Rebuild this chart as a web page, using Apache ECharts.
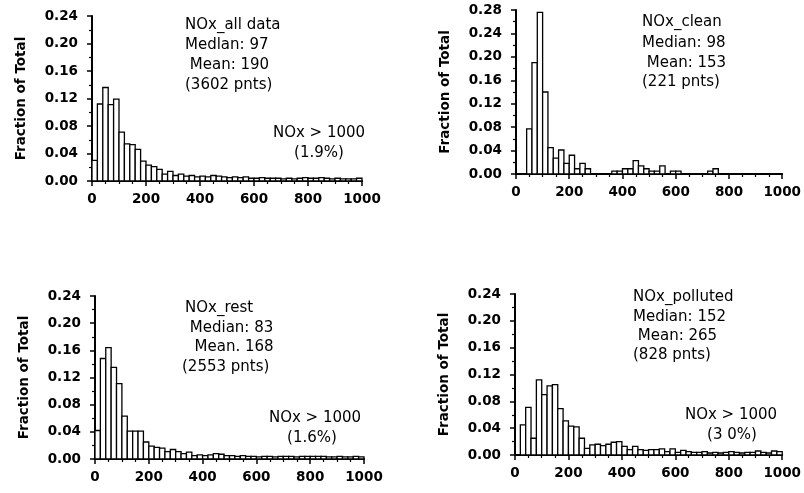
<!DOCTYPE html>
<html>
<head>
<meta charset="utf-8">
<script src="https://cdn.jsdelivr.net/npm/echarts@6/dist/echarts.min.js"></script>
<style>html,body{margin:0;padding:0;background:#fff}#c{width:804px;height:493px}</style>
</head>
<body>
<div id="c"></div>
<script>
// Histogram bins (lower edge, NOx), bin width 20
const binWidth = 20;
const binStarts = [0,20,40,60,80,100,120,140,160,180,200,220,240,260,280,300,320,340,360,380,
  400,420,440,460,480,500,520,540,560,580,600,620,640,660,680,700,720,740,760,780,
  800,820,840,860,880,900,920,940,960,980];
const xTicks = [0,200,400,600,800,1000];

// Fraction of total per bin
const allData = [0.030,0.112,0.136,0.111,0.119,0.071,0.054,0.053,0.046,0.029,
  0.023,0.021,0.017,0.010,0.014,0.008,0.010,0.007,0.008,0.006,
  0.007,0.006,0.008,0.007,0.006,0.005,0.006,0.005,0.006,0.004,
  0.004,0.005,0.004,0.004,0.004,0.003,0.004,0.003,0.004,0.005,
  0.004,0.004,0.005,0.004,0.003,0.004,0.003,0.003,0.003,0.004];
const clean = [0,0,0.077,0.190,0.276,0.140,0.045,0.027,0.041,0.018,
  0.032,0.009,0.018,0.009,0,0,0,0,0.005,0.005,
  0.009,0.009,0.023,0.014,0.009,0.005,0.005,0.014,0,0.005,
  0.005,0,0,0,0,0,0.005,0.009,0,0,
  0,0,0,0,0,0,0,0,0,0];
const rest = [0.042,0.148,0.164,0.135,0.111,0.063,0.041,0.041,0.041,0.025,
  0.019,0.017,0.016,0.011,0.014,0.011,0.008,0.010,0.005,0.006,
  0.005,0.006,0.008,0.007,0.005,0.005,0.004,0.005,0.004,0.004,
  0.003,0.004,0.004,0.003,0.004,0.004,0.004,0.003,0.004,0.004,
  0.004,0.004,0.004,0.003,0.003,0.004,0.003,0.003,0.004,0.003];
const polluted = [0,0.045,0.071,0.025,0.112,0.090,0.103,0.105,0.069,0.051,
  0.043,0.042,0.025,0.010,0.015,0.016,0.014,0.016,0.019,0.020,
  0.013,0.008,0.013,0.008,0.007,0.008,0.008,0.009,0.005,0.009,
  0.004,0.007,0.005,0.004,0.004,0.005,0.003,0.004,0.003,0.004,
  0.005,0.004,0.003,0.004,0.004,0.006,0.004,0.003,0.006,0.005];

const panels = [
  {vals: allData, ymax: 0.24, grid:{left:92, top:16, width:270, height:165},
   text:[['NOx_all data',185,25],['Medlan: 97',185,45],[' Mean: 190',185,65],['(3602 pnts)',185,85]],
   over:[['NOx > 1000',319,133],['(1.9%)',319,153]]},
  {vals: clean, ymax: 0.28, grid:{left:516, top:10, width:270, height:164},
   text:[['NOx_clean',642,22],['Median: 98',642,43],[' Mean: 153',642,63],['(221 pnts)',642,82]],
   over:[]},
  {vals: rest, ymax: 0.24, grid:{left:95, top:296, width:269, height:163},
   text:[['NOx_rest',185,308],[' Median: 83',185,328],['  Mean. 168',185,347],['(2553 pnts)',182,367]],
   over:[['NOx > 1000',315,418],['(1.6%)',312,438]]},
  {vals: polluted, ymax: 0.24, grid:{left:515, top:294, width:269, height:161},
   text:[['NOx_polluted',633,297],['Median: 152',633,317],[' Mean: 265',633,336],['(828 pnts)',633,355]],
   over:[['NOx > 1000',731,415],['(3 0%)',732,435]]}
];

const FONT = 'DejaVu Sans';
const grids=[], xAxes=[], yAxes=[], series=[], graphics=[];
panels.forEach((p,i)=>{
  grids.push(Object.assign({containLabel:false}, p.grid));
  xAxes.push({type:'value', gridIndex:i, min:0, max:1000, interval:200,
    axisLine:{show:true, onZero:false, lineStyle:{color:'#000', width:2}},
    axisTick:{show:true, length:5, lineStyle:{color:'#000', width:1.5}},
    minorTick:{show:true, splitNumber:4, length:3, lineStyle:{color:'#000', width:1.2}},
    splitLine:{show:false},
    axisLabel:{color:'#000', fontFamily:FONT, fontWeight:'bold', fontSize:13.5, margin:11,
      formatter:v=>String(v)}
  });
  yAxes.push({type:'value', gridIndex:i, min:0, max:p.ymax, interval:0.04,
    name:'Fraction of Total', nameLocation:'middle', nameGap:64,
    nameTextStyle:{color:'#000', fontFamily:FONT, fontWeight:'bold', fontSize:13.5},
    axisLine:{show:true, lineStyle:{color:'#000', width:2}},
    axisTick:{show:true, length:5, lineStyle:{color:'#000', width:1.5}},
    minorTick:{show:true, splitNumber:2, length:3, lineStyle:{color:'#000', width:1.2}},
    splitLine:{show:false},
    axisLabel:{color:'#000', fontFamily:FONT, fontWeight:'bold', fontSize:13.5, margin:14,
      formatter:v=>v.toFixed(2)}
  });
  series.push({type:'custom', xAxisIndex:i, yAxisIndex:i,
    data: binStarts.map((b,k)=>[b, p.vals[k]]),
    encode:{x:0, y:1},
    renderItem:(params, api)=>{
      const x0 = api.value(0), y = api.value(1);
      if (!y) return null;
      const a = api.coord([x0, 0]);
      const b = api.coord([x0 + binWidth, y]);
      return {type:'rect', shape:{x:a[0], y:b[1], width:b[0]-a[0], height:a[1]-b[1]},
        style:{fill:'#fff', stroke:'#000', lineWidth:1.3}};
    }
  });
  p.text.forEach(t=>graphics.push({type:'text', x:t[1], y:t[2],
    style:{text:t[0], fill:'#000', font:'15px "DejaVu Sans"', textAlign:'left', textVerticalAlign:'middle'}}));
  p.over.forEach(t=>graphics.push({type:'text', x:t[1], y:t[2],
    style:{text:t[0], fill:'#000', font:'15px "DejaVu Sans"', textAlign:'center', textVerticalAlign:'middle'}}));
});

const chart = echarts.init(document.getElementById('c'), null, {renderer:'canvas'});
chart.setOption({
  animation:false,
  backgroundColor:'#fff',
  grid:grids, xAxis:xAxes, yAxis:yAxes, series:series, graphic:graphics
});
</script>
</body>
</html>
